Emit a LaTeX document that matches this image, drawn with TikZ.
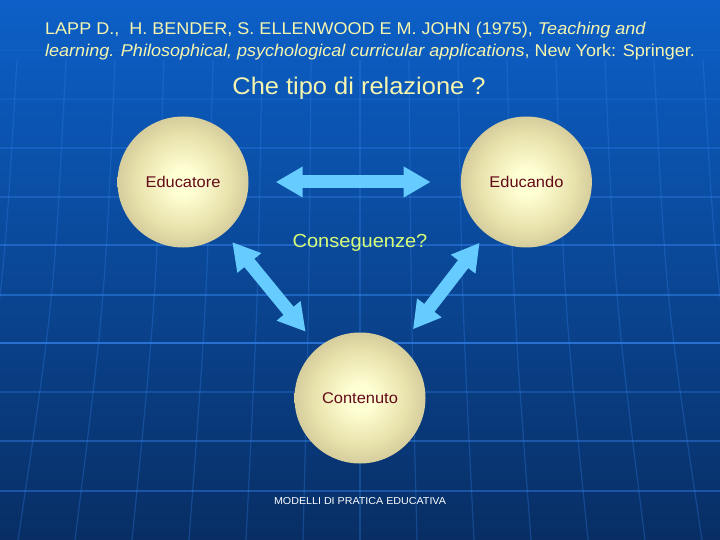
\documentclass[tikz,border=0pt]{standalone}
\usepackage{fontspec}
\setmainfont{Liberation Sans}[FakeStretch=1.06]
\usepackage{tikz}
\usetikzlibrary{shapes.geometric, arrows.meta, positioning}
\definecolor{bgtop}{RGB}{12,96,200}
\definecolor{bgmid}{RGB}{8,74,160}
\definecolor{bgbot}{RGB}{8,46,100}
\definecolor{gridblue}{RGB}{50,130,235}
\definecolor{arrowblue}{RGB}{102,204,255}
\definecolor{titleyellow}{RGB}{245,245,175}
\definecolor{askgreen}{RGB}{215,255,120}
\definecolor{labelred}{RGB}{100,10,25}
\definecolor{ballin}{RGB}{255,255,212}
\definecolor{ballmid}{RGB}{232,226,172}
\definecolor{ballout}{RGB}{200,190,145}
\pgfdeclareradialshading{ballshade}{\pgfpoint{0bp}{0bp}}{color(0bp)=(ballin); color(5bp)=(ballin); color(18bp)=(ballmid); color(30bp)=(ballout); color(100bp)=(ballout)}
\tikzstyle{person} = [circle, minimum size=131pt, inner sep=0pt, shading=ballshade, text=labelred, font=\fontsize{15.5}{18}\selectfont]
\tikzstyle{fatarrow} = [line width=13pt, draw=arrowblue, <->, >={Triangle[length=27pt,width=29pt]}]
\tikzstyle{gridline} = [draw=gridblue, line width=1.6pt]

\begin{document}
\begin{tikzpicture}[x=1pt, y=-1pt, node distance=212pt]
        % background and grid
        \useasboundingbox (0,0) rectangle (720,540);
        \clip (0,0) rectangle (720,540);
        \shade[top color=bgtop, middle color=bgmid, bottom color=bgbot] (0,0) rectangle (720,540);
        \foreach \y/\o in {50/0.1, 99/0.15, 148/0.3, 197/0.35, 245/0.5, 295/0.55, 343/0.75, 392/0.3, 441/0.45, 491/0.45}
            \draw [gridline, opacity=\o] (0,\y) -- (720,\y);
        \foreach \k in {-7,...,7}
            \draw [gridline, line width=1.2pt, opacity=0.3] (360+\k*49,60) .. controls (360+\k*51,300) .. (360+\k*57,540);

        % texts
        \node (reference) [anchor=west, align=left, inner sep=0pt, text=titleyellow, font=\fontsize{17}{22}\selectfont] at (45,41)
            {LAPP D.,~ H. BENDER, S. ELLENWOOD E M. JOHN (1975), \textit{Teaching and}\\
             \textit{learning. Philosophical, psychological curricular applications}, New York: Springer.};
        \node (question) [text=titleyellow, font=\fontsize{24}{28}\selectfont] at (359,88) {Che tipo di relazione ?};

        % circles
        \node (educatore) [person] at (183,182) {Educatore};
        \node (educando) [person, right=of educatore] {Educando};
        \node (contenuto) [person] at (360,398) {Contenuto};

        \node (conseguenze) [text=askgreen, font=\fontsize{18.9}{22}\selectfont] at (360,243) {Conseguenze?};
        \node (modelli) [text=white, font=\fontsize{10.1}{12}\selectfont] at (360,501) {MODELLI DI PRATICA EDUCATIVA};

        % arrows
        \draw [fatarrow, shorten <=27pt, shorten >=30pt] (educatore) -- (educando);
        \draw [fatarrow, shorten <=12pt, shorten >=20pt] (educatore) -- (contenuto);
        \draw [fatarrow, shorten <=11pt, shorten >=21pt] (educando) -- (contenuto);
    \end{tikzpicture}
\end{document}
